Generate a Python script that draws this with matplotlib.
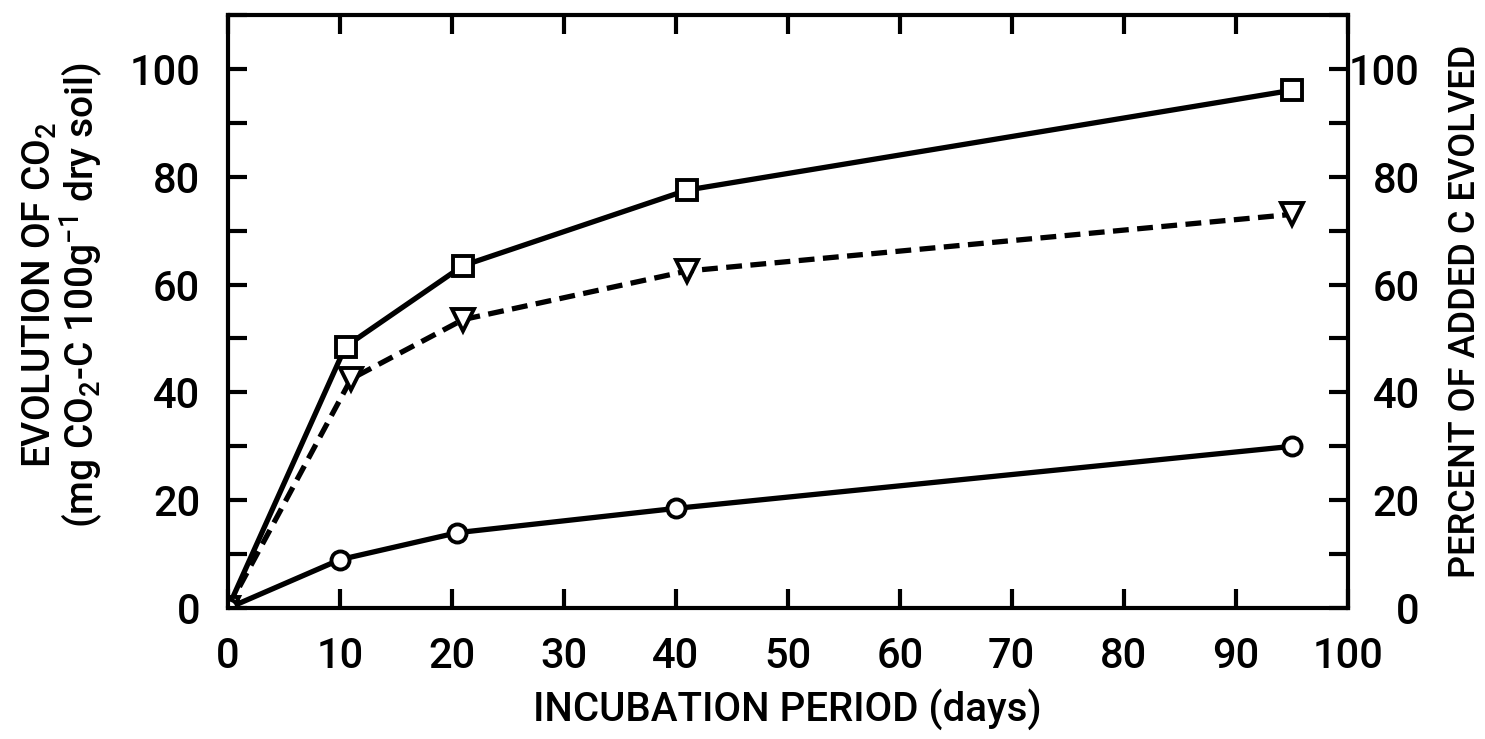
import matplotlib
matplotlib.use("Agg")
import matplotlib.pyplot as plt
from matplotlib.ticker import MultipleLocator

# incubation days and CO2 evolved
days_sq = [0, 10.5, 21, 41, 95]
co2_sq = [0, 48.5, 63.5, 77.5, 96]

days_tri = [0, 11, 21, 41, 95]
co2_tri = [0, 42.5, 53.5, 62.5, 73]

days_cir = [0, 10, 20.5, 40, 95]
co2_cir = [0, 9, 14, 18.5, 30]

plt.rcParams['font.family'] = ['Roboto', 'DejaVu Sans']
plt.rcParams['font.weight'] = 'medium'
plt.rcParams['axes.labelweight'] = 'medium'
plt.rcParams['mathtext.fontset'] = 'custom'
plt.rcParams['mathtext.rm'] = 'Roboto:medium'
plt.rcParams['mathtext.default'] = 'rm'
fs = 30

fig = plt.figure(figsize=(14.85, 7.39), dpi=100)
ax = fig.add_axes([0.1535, 0.177, 0.754, 0.803])

lw = 3.8
ax.plot(days_sq, co2_sq, 'k-', lw=lw, marker='s', ms=15, mfc='white', mec='k', mew=2.8)
ax.plot(days_tri, co2_tri, 'k--', lw=lw, dashes=(3, 1.6), marker='v', ms=16, mfc='white', mec='k', mew=2.8)
ax.plot(days_cir, co2_cir, 'k-', lw=lw, marker='o', ms=13, mfc='white', mec='k', mew=2.8)

ax.set_xlim(0, 100)
ax.set_ylim(0, 110)
ax.xaxis.set_major_locator(MultipleLocator(10))
ax.yaxis.set_major_locator(MultipleLocator(20))
ax.yaxis.set_minor_locator(MultipleLocator(10))
ax.tick_params(axis='both', which='both', direction='in', width=3, length=14,
               labelsize=fs)
ax.tick_params(axis='x', top=True, pad=20)
ax.tick_params(axis='y', pad=20)
for s in ax.spines.values():
    s.set_linewidth(3)

ax.set_xlabel('INCUBATION PERIOD (days)', fontsize=fs - 1, labelpad=8)
ax.set_ylabel('EVOLUTION OF CO$_2$\n(mg CO$_2$-C 100g$^{-1}$ dry soil)', fontsize=fs - 2,
              linespacing=0.95)
ax.yaxis.set_label_coords(-0.11, 0.528)

ax2 = ax.twinx()
ax2.set_ylim(0, 110)
ax2.yaxis.set_major_locator(MultipleLocator(20))
ax2.yaxis.set_minor_locator(MultipleLocator(10))
ax2.tick_params(axis='y', which='both', direction='in', width=3, length=14,
                labelsize=fs, pad=52)
for lab in ax2.get_yticklabels():
    lab.set_horizontalalignment('right')
ax2.set_ylabel('PERCENT OF ADDED C EVOLVED', fontsize=fs - 4)
ax2.yaxis.set_label_coords(1.09, 0.5)

fig.savefig('out.png', dpi=100)
